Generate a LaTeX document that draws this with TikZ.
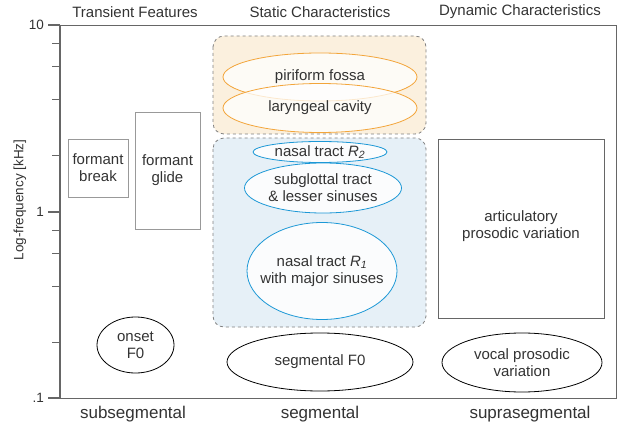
\documentclass[tikz,border=0pt]{standalone}
\usepackage{fontspec}
\setmainfont{Liberation Sans}
\usepackage{xcolor}
\usepackage{tikz}
\usetikzlibrary{shapes,positioning,fit,calc}

\definecolor{txtgray}{HTML}{333333}
\definecolor{axisgray}{HTML}{666666}
\definecolor{ovorange}{HTML}{F3A53A}
\definecolor{bgorange}{HTML}{FBF0DE}
\definecolor{ovblue}{HTML}{1C98D6}
\definecolor{bgblue}{HTML}{E6F0F7}

\begin{document}
\begin{tikzpicture}[
    x=1pt, y=-1pt,
    every node/.style={text=txtgray, font=\fontsize{15}{17}\selectfont},
    frame/.style={draw=axisgray, line width=0.8pt},
    featbox/.style={draw=gray!80, line width=0.8pt, inner sep=0pt, align=center},
    group/.style={draw=gray, dashed, line width=0.8pt, rounded corners=11pt},
    oval/.style={ellipse, inner sep=0pt, align=center, line width=0.8pt},
    orangeoval/.style={oval, draw=ovorange, fill=white, fill opacity=0.75, text opacity=1},
    blueoval/.style={oval, draw=ovblue, fill=white, fill opacity=0.85, text opacity=1},
    blackoval/.style={oval, draw=black},
    head/.style={font=\fontsize{15}{17}\selectfont},
    level/.style={font=\fontsize{17}{19}\selectfont}
]
\useasboundingbox (0,0) rectangle (623,430);

% Frame and axis
\draw[frame] (60,25) -- (616,25) -- (616,398) -- (60,398);
\draw[line width=1.6pt, axisgray] (60,25) -- (60,398);
\foreach \yy/\lab in {25/10, 212/1, 398/.1}{
    \draw[line width=1.6pt, axisgray] (48,\yy) -- (60,\yy);
    \node[anchor=east, inner sep=2pt, font=\fontsize{13.5}{15}\selectfont] at (46,\yy) {\lab};
}
\foreach \k in {2,4,6,8}{
    \draw[line width=0.8pt, axisgray] (52,{212-187*log10(\k)}) -- (60,{212-187*log10(\k)});
    \draw[line width=0.8pt, axisgray] (52,{398-186*log10(\k)}) -- (60,{398-186*log10(\k)});
}
\node[rotate=90, font=\fontsize{13.5}{15}\selectfont] (ylab) at (20,200) {Log-frequency [kHz]};

% Column headings
\node[head] (transient) at (135,12) {Transient Features};
\node[head] (static) at (320,12) {Static Characteristics};
\node[head] (dynamic) at (520,12) {Dynamic Characteristics};

% Time levels
\node[level] (subseg) at (133,414) {subsegmental};
\node[level] (seg) at (320,414) {segmental};
\node[level] (supraseg) at (530,414) {suprasegmental};

% Transient features
\node[featbox, minimum width=60pt, minimum height=58pt] (break) at (98,168) {formant\\break};
\node[featbox, minimum width=65pt, minimum height=117pt] (glide) at (167.5,170.5) {formant\\glide};
\node[blackoval, minimum width=77pt, minimum height=56pt] (onset) at (135.5,345) {onset\\F0};

% Static characteristics
\draw[group, fill=bgorange] (213,36) rectangle (426,134);
\draw[group, fill=bgblue] (213,138) rectangle (426,327);
\node[orangeoval, minimum width=194pt, minimum height=48pt] (piriform) at (320,77) {piriform fossa};
\node[orangeoval, minimum width=194pt, minimum height=49pt] (larynx) at (320,108) {laryngeal cavity};
\node[blueoval, minimum width=134pt, minimum height=21pt] (nasaltwo) at (320,152) {nasal tract \textit{R\textsubscript{2}}};
\node[blueoval, minimum width=157pt, minimum height=50pt] (subglottal) at (323,188) {subglottal tract\\\& lesser sinuses};
\node[blueoval, minimum width=150pt, minimum height=97pt] (nasalone) at (322,271) {};
\node[align=center] (nasalonelab) at (nasalone) {nasal tract \textit{R\textsubscript{1}}\\with major sinuses};
\node[blackoval, minimum width=186pt, minimum height=58pt] (segfzero) at (320,362) {segmental F0};

% Dynamic characteristics
\node[featbox, draw=axisgray, minimum width=166pt, minimum height=179pt] (artic) at (521,228.5) {};
\node[align=center] (articlab) at (521,226) {articulatory\\prosodic variation};
\node[blackoval, minimum width=160pt, minimum height=59pt] (vocal) at (522,362.5) {vocal prosodic\\variation};

\end{tikzpicture}
\end{document}
